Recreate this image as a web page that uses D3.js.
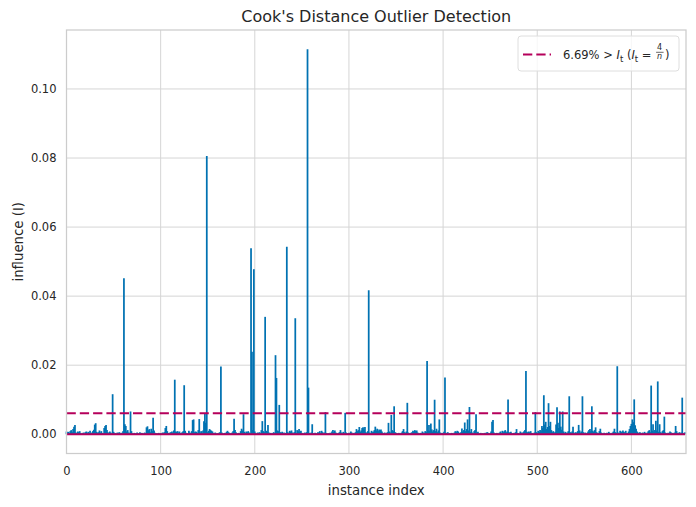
<!DOCTYPE html>
<html>
<head>
<meta charset="utf-8">
<script src="https://cdn.jsdelivr.net/npm/d3@7/dist/d3.min.js"></script>
<style>
  body { margin: 0; background: #ffffff; }
  svg { display: block; }
</style>
</head>
<body>
<svg id="chart" width="696" height="507"></svg>
<script>
// ---------------- data ----------------
const influence = [
  0.0008,0.0006,0.0007,0.0004,0.0009,0.0012,0.0006,0.0015,0.0022,0.0027,0.0005,0.0003,0.0008,0.0006,0.0009,0.0004,0.0002,0.0003,0.0005,0.0002,
  0.0006,0.0008,0.0003,0.0007,0.0004,0.0010,0.0002,0.0005,0.0009,0.0013,0.0028,0.0032,0.0007,0.0004,0.0006,0.0011,0.0005,0.0009,0.0004,0.0003,
  0.0018,0.0024,0.0027,0.0012,0.0006,0.0003,0.0008,0.0005,0.0002,0.0116,0.0007,0.0004,0.0003,0.0002,0.0005,0.0003,0.0006,0.0002,0.0004,0.0003,
  0.0009,0.0452,0.0029,0.0024,0.0008,0.0012,0.0005,0.0004,0.0066,0.0009,0.0003,0.0002,0.0004,0.0002,0.0003,0.0005,0.0002,0.0003,0.0006,0.0002,
  0.0004,0.0003,0.0002,0.0005,0.0003,0.0020,0.0023,0.0012,0.0015,0.0006,0.0016,0.0009,0.0048,0.0011,0.0004,0.0002,0.0003,0.0002,0.0004,0.0002,
  0.0003,0.0002,0.0005,0.0004,0.0006,0.0018,0.0024,0.0009,0.0004,0.0003,0.0005,0.0006,0.0008,0.0004,0.0011,0.0158,0.0008,0.0007,0.0009,0.0005,
  0.0008,0.0003,0.0004,0.0006,0.0009,0.0142,0.0010,0.0004,0.0003,0.0002,0.0010,0.0005,0.0003,0.0009,0.0041,0.0043,0.0006,0.0008,0.0007,0.0004,
  0.0012,0.0044,0.0005,0.0009,0.0004,0.0011,0.0038,0.0061,0.0033,0.0806,0.0006,0.0010,0.0015,0.0012,0.0010,0.0008,0.0004,0.0003,0.0005,0.0002,
  0.0003,0.0002,0.0004,0.0006,0.0196,0.0005,0.0003,0.0002,0.0004,0.0003,0.0007,0.0010,0.0006,0.0004,0.0002,0.0003,0.0005,0.0009,0.0045,0.0012,
  0.0006,0.0003,0.0002,0.0004,0.0003,0.0009,0.0016,0.0011,0.0058,0.0007,0.0004,0.0008,0.0006,0.0009,0.0005,0.0003,0.0539,0.0239,0.0012,0.0478,
  0.0008,0.0003,0.0002,0.0005,0.0004,0.0006,0.0003,0.0012,0.0038,0.0009,0.0006,0.0340,0.0010,0.0008,0.0027,0.0005,0.0003,0.0004,0.0002,0.0003,
  0.0006,0.0004,0.0229,0.0163,0.0011,0.0009,0.0085,0.0006,0.0004,0.0007,0.0003,0.0005,0.0002,0.0004,0.0543,0.0006,0.0003,0.0010,0.0008,0.0011,
  0.0005,0.0003,0.0006,0.0336,0.0004,0.0012,0.0009,0.0015,0.0007,0.0010,0.0004,0.0003,0.0002,0.0005,0.0003,0.0006,0.1115,0.0135,0.0004,0.0002,
  0.0005,0.0029,0.0003,0.0002,0.0004,0.0003,0.0002,0.0006,0.0005,0.0009,0.0004,0.0010,0.0006,0.0003,0.0005,0.0064,0.0004,0.0002,0.0003,0.0002,
  0.0004,0.0003,0.0008,0.0012,0.0006,0.0011,0.0005,0.0003,0.0002,0.0004,0.0006,0.0012,0.0005,0.0003,0.0007,0.0004,0.0062,0.0005,0.0003,0.0002,
  0.0004,0.0003,0.0008,0.0005,0.0002,0.0004,0.0003,0.0006,0.0015,0.0009,0.0012,0.0021,0.0007,0.0011,0.0018,0.0020,0.0014,0.0021,0.0006,0.0004,
  0.0009,0.0417,0.0005,0.0003,0.0010,0.0006,0.0008,0.0012,0.0022,0.0011,0.0016,0.0009,0.0014,0.0012,0.0014,0.0008,0.0004,0.0003,0.0005,0.0002,
  0.0004,0.0006,0.0033,0.0008,0.0005,0.0056,0.0012,0.0009,0.0081,0.0006,0.0004,0.0003,0.0002,0.0004,0.0003,0.0002,0.0005,0.0009,0.0015,0.0006,
  0.0004,0.0008,0.0091,0.0005,0.0003,0.0002,0.0004,0.0006,0.0010,0.0008,0.0012,0.0009,0.0011,0.0005,0.0003,0.0002,0.0004,0.0003,0.0008,0.0005,
  0.0004,0.0009,0.0006,0.0212,0.0011,0.0027,0.0010,0.0031,0.0014,0.0008,0.0012,0.0100,0.0009,0.0016,0.0006,0.0011,0.0043,0.0005,0.0003,0.0004,
  0.0002,0.0007,0.0164,0.0004,0.0003,0.0006,0.0002,0.0003,0.0002,0.0004,0.0003,0.0002,0.0005,0.0009,0.0006,0.0010,0.0008,0.0004,0.0003,0.0006,
  0.0017,0.0008,0.0012,0.0034,0.0009,0.0015,0.0043,0.0011,0.0079,0.0007,0.0015,0.0005,0.0003,0.0009,0.0012,0.0058,0.0004,0.0007,0.0003,0.0002,
  0.0004,0.0002,0.0003,0.0002,0.0004,0.0003,0.0005,0.0006,0.0004,0.0002,0.0003,0.0008,0.0036,0.0041,0.0005,0.0003,0.0002,0.0004,0.0003,0.0002,
  0.0005,0.0008,0.0004,0.0010,0.0006,0.0009,0.0012,0.0005,0.0008,0.0101,0.0006,0.0004,0.0007,0.0003,0.0002,0.0004,0.0003,0.0006,0.0015,0.0004,
  0.0003,0.0002,0.0008,0.0005,0.0003,0.0006,0.0009,0.0012,0.0183,0.0007,0.0005,0.0008,0.0006,0.0009,0.0004,0.0003,0.0002,0.0005,0.0064,0.0006,
  0.0004,0.0010,0.0007,0.0012,0.0009,0.0024,0.0018,0.0113,0.0028,0.0036,0.0015,0.0021,0.0090,0.0024,0.0036,0.0012,0.0006,0.0009,0.0004,0.0007,
  0.0028,0.0078,0.0033,0.0018,0.0066,0.0022,0.0013,0.0066,0.0008,0.0004,0.0007,0.0003,0.0005,0.0009,0.0110,0.0006,0.0004,0.0008,0.0022,0.0005,
  0.0003,0.0006,0.0004,0.0009,0.0027,0.0011,0.0005,0.0008,0.0110,0.0006,0.0003,0.0005,0.0002,0.0004,0.0008,0.0012,0.0015,0.0009,0.0081,0.0010,
  0.0007,0.0012,0.0020,0.0006,0.0004,0.0003,0.0009,0.0016,0.0005,0.0003,0.0002,0.0004,0.0003,0.0002,0.0004,0.0003,0.0007,0.0004,0.0002,0.0003,
  0.0005,0.0008,0.0016,0.0006,0.0004,0.0197,0.0005,0.0003,0.0010,0.0008,0.0006,0.0011,0.0007,0.0005,0.0010,0.0004,0.0003,0.0008,0.0015,0.0024,
  0.0030,0.0043,0.0035,0.0101,0.0026,0.0016,0.0008,0.0005,0.0003,0.0006,0.0004,0.0002,0.0005,0.0003,0.0007,0.0004,0.0002,0.0005,0.0009,0.0012,
  0.0006,0.0141,0.0010,0.0029,0.0008,0.0012,0.0039,0.0011,0.0153,0.0007,0.0029,0.0006,0.0004,0.0009,0.0012,0.0051,0.0005,0.0003,0.0002,0.0004,
  0.0003,0.0008,0.0006,0.0002,0.0004,0.0003,0.0005,0.0024,0.0009,0.0004,0.0003,0.0006,0.0002,0.0005,0.0106,0.0004,0.0003,0.0006
];
const xTicks = [0, 100, 200, 300, 400, 500, 600];
const yTicks = [0.00, 0.02, 0.04, 0.06, 0.08, 0.10];
const yTickLabels = ["0.00", "0.02", "0.04", "0.06", "0.08", "0.10"];
const titleText = "Cook's Distance Outlier Detection";
const xLabelText = "instance index";
const yLabelText = "influence (I)";
const legendPercent = "6.69%";

// ---------------- layout / style ----------------
const W = 696, H = 507;
const plot = { left: 66.5, right: 686, top: 30, bottom: 453.5 };
const FONT = "'DejaVu Sans', 'Liberation Sans', Arial, sans-serif";
const stemColor = "#0072b2";
const lineColor = "#b5005b";
const gridColor = "#d5d5d5";
const frameColor = "#cccccc";
const textColor = "#262626";

const n = influence.length;
const threshold = 4 / n;
const yMax = d3.max(influence);
const yPad = 0.05 * yMax;

const x = d3.scaleLinear().domain([0, n]).range([plot.left, plot.right]);
const y = d3.scaleLinear().domain([-yPad, yMax + yPad]).range([plot.bottom, plot.top]);

const svg = d3.select("#chart");
svg.append("rect").attr("width", W).attr("height", H).attr("fill", "#ffffff");

// grid
const grid = svg.append("g");
grid.selectAll("line.gx").data(xTicks).join("line")
  .attr("x1", d => x(d)).attr("x2", d => x(d))
  .attr("y1", plot.top).attr("y2", plot.bottom)
  .attr("stroke", gridColor).attr("stroke-width", 1);
grid.selectAll("line.gy").data(yTicks).join("line")
  .attr("x1", plot.left).attr("x2", plot.right)
  .attr("y1", d => y(d)).attr("y2", d => y(d))
  .attr("stroke", gridColor).attr("stroke-width", 1);

// stems
svg.append("g").selectAll("line").data(influence).join("line")
  .attr("x1", (d, i) => x(i)).attr("x2", (d, i) => x(i))
  .attr("y1", y(0)).attr("y2", d => y(d))
  .attr("stroke", stemColor).attr("stroke-width", 1.75);

// baseline
svg.append("line")
  .attr("x1", x(0)).attr("x2", x(n - 1))
  .attr("y1", y(0)).attr("y2", y(0))
  .attr("stroke", lineColor).attr("stroke-width", 2);

// threshold line
svg.append("line")
  .attr("x1", plot.left).attr("x2", plot.right)
  .attr("y1", y(threshold)).attr("y2", y(threshold))
  .attr("stroke", lineColor).attr("stroke-width", 2)
  .attr("stroke-dasharray", "9.3,4");

// frame
svg.append("rect")
  .attr("x", plot.left).attr("y", plot.top)
  .attr("width", plot.right - plot.left).attr("height", plot.bottom - plot.top)
  .attr("fill", "none").attr("stroke", frameColor).attr("stroke-width", 1.25);

// axes (labels only)
const xAxis = svg.append("g").attr("transform", `translate(0,${plot.bottom})`)
  .call(d3.axisBottom(x).tickValues(xTicks).tickSize(0).tickPadding(13).tickFormat(d3.format("d")));
const yAxis = svg.append("g").attr("transform", `translate(${plot.left},0)`)
  .call(d3.axisLeft(y).tickValues(yTicks).tickSize(0).tickPadding(10).tickFormat((d, i) => yTickLabels[i]));
[xAxis, yAxis].forEach(a => {
  a.select(".domain").remove();
  a.selectAll("text").attr("fill", textColor).style("font-family", FONT).style("font-size", "11.5px");
});

// title & labels
svg.append("text").attr("x", (plot.left + plot.right) / 2).attr("y", 21.5)
  .attr("text-anchor", "middle").attr("fill", textColor)
  .style("font-family", FONT).style("font-size", "16px").text(titleText);
svg.append("text").attr("x", (plot.left + plot.right) / 2).attr("y", 494.5)
  .attr("text-anchor", "middle").attr("fill", textColor)
  .style("font-family", FONT).style("font-size", "13.3px").text(xLabelText);
svg.append("text").attr("transform", `translate(23,${(plot.top + plot.bottom) / 2}) rotate(-90)`)
  .attr("text-anchor", "middle").attr("fill", textColor)
  .style("font-family", FONT).style("font-size", "13.3px").text(yLabelText);

// legend
const lgG = svg.append("g");
lgG.append("rect").attr("x", 518).attr("y", 36).attr("width", 161).attr("height", 35)
  .attr("rx", 3).attr("fill", "#ffffff").attr("fill-opacity", 0.8)
  .attr("stroke", "#dedede").attr("stroke-width", 1);
lgG.append("line").attr("x1", 523).attr("x2", 551).attr("y1", 54.5).attr("y2", 54.5)
  .attr("stroke", lineColor).attr("stroke-width", 2).attr("stroke-dasharray", "9.3,4");
const lt = lgG.append("text").attr("x", 563).attr("y", 59).attr("fill", textColor)
  .style("font-family", FONT).style("font-size", "11.5px");
lt.append("tspan").text(legendPercent + " > ");
lt.append("tspan").style("font-style", "italic").text("I");
lt.append("tspan").attr("dy", 2.5).style("font-size", "8.5px").text("t");
lt.append("tspan").attr("dy", -2.5).text("\u00a0(");
lt.append("tspan").style("font-style", "italic").text("I");
lt.append("tspan").attr("dy", 2.5).style("font-size", "8.5px").text("t");
lt.append("tspan").attr("dy", -2.5).text("\u00a0=\u00a0");
const fx = 563 + lt.node().getComputedTextLength() + 1;
lgG.append("text").attr("x", fx + 3.5).attr("y", 50).attr("text-anchor", "middle")
  .attr("fill", textColor).style("font-family", FONT).style("font-size", "8px").text("4");
lgG.append("line").attr("x1", fx).attr("x2", fx + 7.5).attr("y1", 52.3).attr("y2", 52.3)
  .attr("stroke", textColor).attr("stroke-width", 0.7);
lgG.append("text").attr("x", fx + 3.5).attr("y", 58.5).attr("text-anchor", "middle")
  .attr("fill", textColor).style("font-family", FONT).style("font-size", "8px")
  .style("font-style", "italic").text("n");
lgG.append("text").attr("x", fx + 9).attr("y", 59).attr("fill", textColor)
  .style("font-family", FONT).style("font-size", "11.5px").text(")");
</script>
</body>
</html>
